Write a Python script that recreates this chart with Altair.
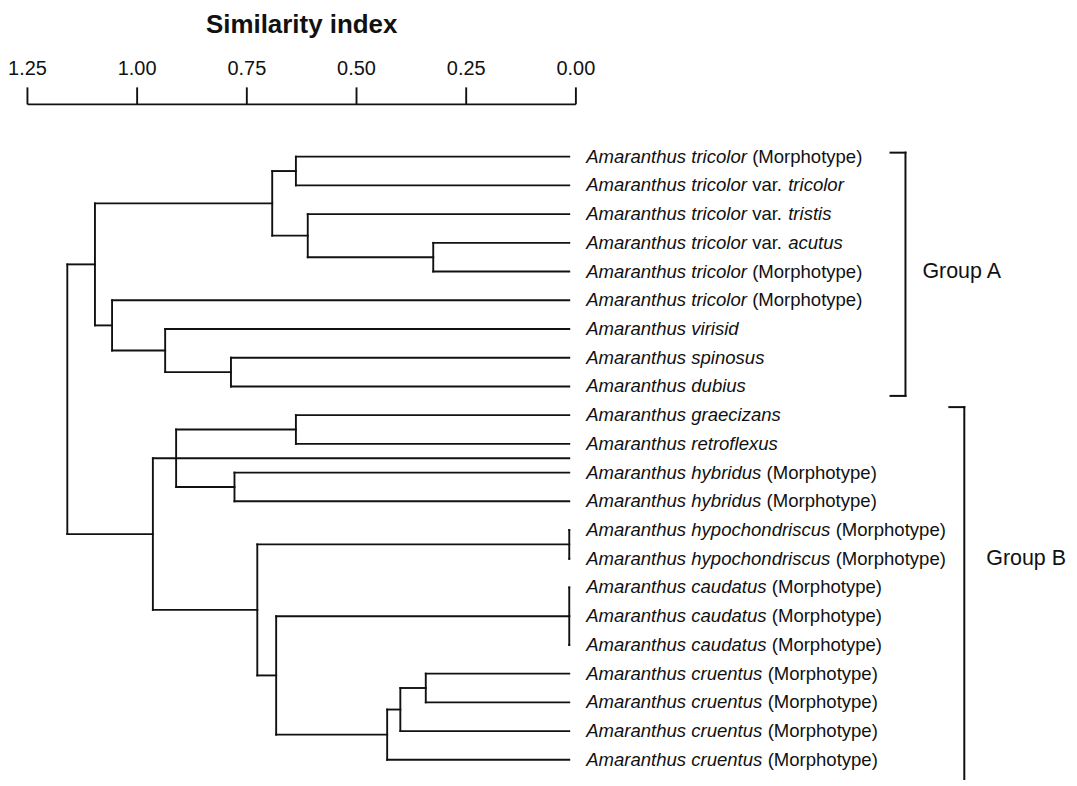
import altair as alt
import pandas as pd

# ---------------- data ----------------
leaf_labels = [
    "*Amaranthus tricolor* (Morphotype)",
    "*Amaranthus tricolor* var. *tricolor*",
    "*Amaranthus tricolor* var. *tristis*",
    "*Amaranthus tricolor* var. *acutus*",
    "*Amaranthus tricolor* (Morphotype)",
    "*Amaranthus tricolor* (Morphotype)",
    "*Amaranthus virisid*",
    "*Amaranthus spinosus*",
    "*Amaranthus dubius*",
    "*Amaranthus graecizans*",
    "*Amaranthus retroflexus*",
    "*Amaranthus hybridus* (Morphotype)",
    "*Amaranthus hybridus* (Morphotype)",
    "*Amaranthus hypochondriscus* (Morphotype)",
    "*Amaranthus hypochondriscus* (Morphotype)",
    "*Amaranthus caudatus* (Morphotype)",
    "*Amaranthus caudatus* (Morphotype)",
    "*Amaranthus caudatus* (Morphotype)",
    "*Amaranthus cruentus* (Morphotype)",
    "*Amaranthus cruentus* (Morphotype)",
    "*Amaranthus cruentus* (Morphotype)",
    "*Amaranthus cruentus* (Morphotype)",
]
leaf_height = 0.014  # where the leaf branches end on the similarity axis

merge_ids = ["A1", "A2", "A3", "A4", "A5", "A6", "A7", "A8",
             "B1", "B2", "B3", "B4", "B5", "C1", "C2", "C3",
             "B6", "B7", "B8", "ROOT"]
merge_children = [
    ["L0", "L1"], ["L3", "L4"], ["L2", "A2"], ["A1", "A3"],
    ["L7", "L8"], ["L6", "A5"], ["L5", "A6"], ["A4", "A7"],
    ["L9", "L10"], ["L11", "L12"], ["B1", "B2"], ["L13", "L14"],
    ["L15", "L16", "L17"], ["L18", "L19"], ["C1", "L20"], ["C2", "L21"],
    ["B5", "C3"], ["B4", "B6"], ["B3", "B7"], ["A8", "B8"],
]
merge_heights = [0.637, 0.324, 0.610, 0.691, 0.785, 0.935, 1.056, 1.095,
                 0.637, 0.777, 0.910, 0.014, 0.014, 0.341, 0.399, 0.429,
                 0.682, 0.725, 0.963, 1.158]
extended_links = ["B3"]  # branch drawn through to the leaf column

group_names = ["Group A", "Group B"]
group_first = [0, 9]
group_last = [8, 21]
group_label_row = [4, 14]

axis_ticks = [0.0, 0.25, 0.5, 0.75, 1.0, 1.25]

# ---------------- layout / style ----------------
FONT = "Liberation Sans"
INK = "#111111"
PLOT_W, PLOT_H = 550, 680
PXU = PLOT_W / 1.25
Y_DOMAIN = [-1.84, 21.77]
LABEL_GAP = 17
LABEL_SIZE = 18.6
GROUP_SIZE = 21.5
LINE_W = 1.9
BRACKET_X = [881, 940]          # plot-relative px
BRACKET_TOP = [0.14, 0.28]
BRACKET_BOTTOM = [0.33, 0.67]
BRACKET_BOTTOM_TICK = [True, False]
GROUP_LABEL_X = [898, 962]
TICK_LEN = 15


def px_to_x(p):
    return (PLOT_W - p) / PXU


ARIAL = {" ": 278, "(": 333, ")": 333, ".": 278, "A": 667, "M": 833,
         "a": 556, "b": 556, "c": 500, "d": 556, "e": 556, "f": 278, "g": 556,
         "h": 556, "i": 222, "j": 222, "k": 500, "l": 222, "m": 833, "n": 556,
         "o": 556, "p": 556, "q": 556, "r": 333, "s": 500, "t": 278, "u": 556,
         "v": 500, "w": 722, "x": 500, "y": 500, "z": 500}


def text_w(s, size):
    return sum(ARIAL.get(c, 556) for c in s) * size / 1000.0


# ---------------- dendrogram segments ----------------
pos = {f"L{i}": (leaf_height, float(i)) for i in range(len(leaf_labels))}
segs = []
for mid, kids, h in zip(merge_ids, merge_children, merge_heights):
    ys = [pos[k][1] for k in kids]
    segs.append({"x": h, "x2": h, "y": min(ys), "y2": max(ys)})
    for k in kids:
        kh, ky = pos[k]
        end = leaf_height if k in extended_links else kh
        segs.append({"x": h, "x2": end, "y": ky, "y2": ky})
    pos[mid] = (h, (min(ys) + max(ys)) / 2)
seg_df = pd.DataFrame(segs)

# ---------------- leaf label segments ----------------
rows = []
for i, lab in enumerate(leaf_labels):
    off = 0.0
    for j, part in enumerate(lab.split("*")):
        if not part:
            continue
        lead = part[: len(part) - len(part.lstrip())]
        core = part.strip()
        trail = part[len(part.rstrip()):]
        off += text_w(lead, LABEL_SIZE)
        rows.append({"x": leaf_height - (LABEL_GAP + off) / PXU, "y": float(i),
                     "t": core, "it": j % 2 == 1})
        off += text_w(core, LABEL_SIZE) + text_w(trail, LABEL_SIZE)
lab_df = pd.DataFrame(rows)

# ---------------- group brackets ----------------
brs = []
glabs = []
for g in range(len(group_names)):
    bx = px_to_x(BRACKET_X[g])
    bt = group_first[g] - BRACKET_TOP[g]
    bb = group_last[g] + BRACKET_BOTTOM[g]
    tx = px_to_x(BRACKET_X[g] - TICK_LEN)
    brs.append({"x": bx, "x2": bx, "y": bt, "y2": bb})
    brs.append({"x": tx, "x2": bx, "y": bt, "y2": bt})
    if BRACKET_BOTTOM_TICK[g]:
        brs.append({"x": tx, "x2": bx, "y": bb, "y2": bb})
    glabs.append({"x": px_to_x(GROUP_LABEL_X[g]), "y": float(group_label_row[g]),
                  "t": group_names[g]})
br_df = pd.DataFrame(brs)
gl_df = pd.DataFrame(glabs)

xscale = alt.Scale(domain=[0, 1.25], reverse=True, nice=False, zero=False)
yscale = alt.Scale(domain=Y_DOMAIN, reverse=True, nice=False, zero=False)

xaxis = alt.Axis(orient="top", values=axis_ticks, format=".2f", grid=False,
                 title="Similarity index", titleFont=FONT, titleFontSize=26,
                 titleFontWeight="bold", titleColor=INK, titlePadding=22,
                 labelFont=FONT, labelFontSize=20, labelColor=INK,
                 labelPadding=8, labelFlush=False, labelOverlap=False,
                 tickSize=17, tickWidth=LINE_W, tickColor=INK,
                 domainWidth=LINE_W, domainColor=INK)

tree = alt.Chart(seg_df).mark_rule(color=INK, strokeWidth=LINE_W, strokeCap="square").encode(
    x=alt.X("x:Q", scale=xscale, axis=xaxis),
    x2="x2:Q",
    y=alt.Y("y:Q", scale=yscale, axis=None),
    y2="y2:Q",
)

lab_it = alt.Chart(lab_df).transform_filter("datum.it").mark_text(
    font=FONT, fontSize=LABEL_SIZE, fontStyle="italic", align="left",
    baseline="middle", color=INK
).encode(x=alt.X("x:Q", scale=xscale), y=alt.Y("y:Q", scale=yscale), text="t:N")

lab_rm = alt.Chart(lab_df).transform_filter("!datum.it").mark_text(
    font=FONT, fontSize=LABEL_SIZE, align="left", baseline="middle", color=INK
).encode(x=alt.X("x:Q", scale=xscale), y=alt.Y("y:Q", scale=yscale), text="t:N")

brackets = alt.Chart(br_df).mark_rule(color=INK, strokeWidth=2.0, strokeCap="square").encode(
    x=alt.X("x:Q", scale=xscale), x2="x2:Q",
    y=alt.Y("y:Q", scale=yscale), y2="y2:Q",
)

glabel = alt.Chart(gl_df).mark_text(
    font=FONT, fontSize=GROUP_SIZE, align="left", baseline="middle", color=INK
).encode(x=alt.X("x:Q", scale=xscale), y=alt.Y("y:Q", scale=yscale), text="t:N")

chart = alt.layer(tree, lab_it, lab_rm, brackets, glabel).properties(
    width=PLOT_W, height=PLOT_H,
    autosize=alt.AutoSizeParams(type="none"),
    padding={"left": 19, "top": 95, "right": 495, "bottom": 2},
).configure(background="white").configure_view(stroke=None)

chart.save("out.html", embed_options={"renderer": "svg", "actions": False})
